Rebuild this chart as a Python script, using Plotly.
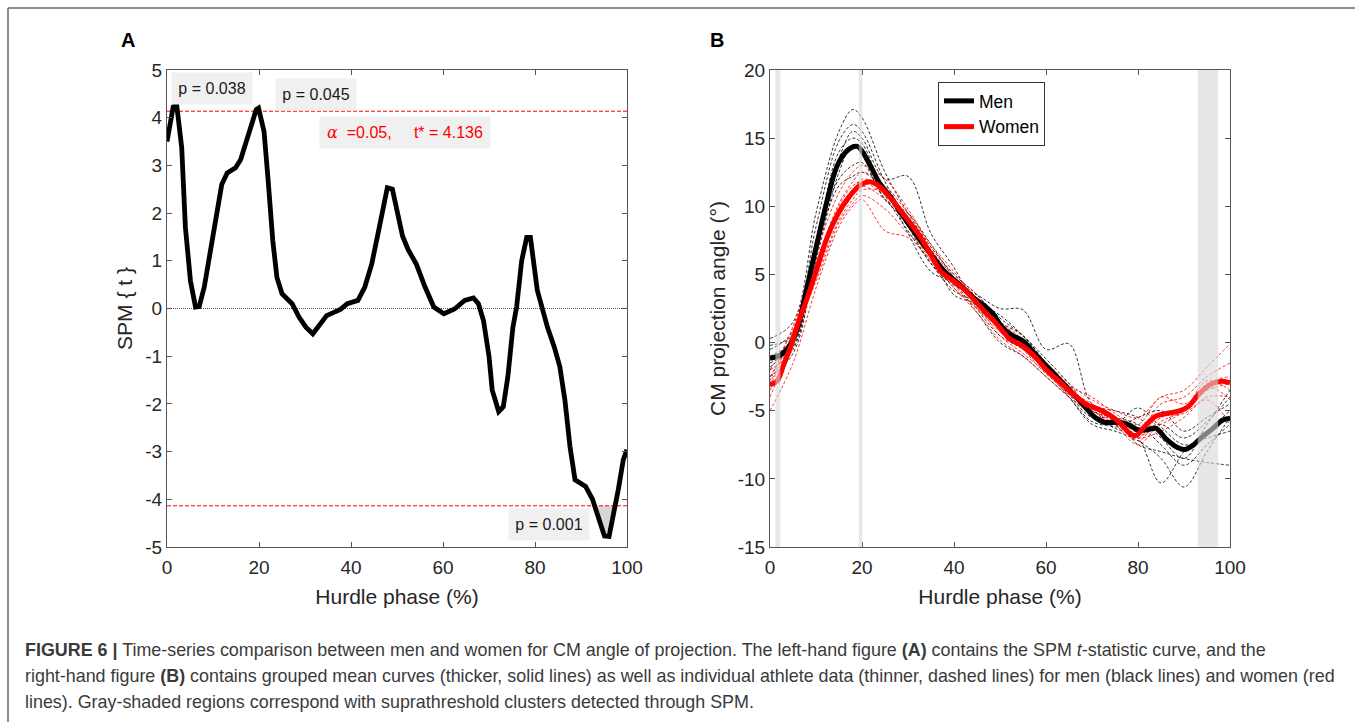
import plotly.graph_objects as go

# ---------------- Data ----------------
# Panel A: SPM{t} curve
spm_x = [0, 1.35, 2.1, 3.2, 4.0, 5.1, 6.2, 7.0, 8.1, 10, 11.9, 13.1, 14.9, 16, 17.5, 19.4, 19.9, 21.1, 22, 23,
         23.9, 25, 27.2, 28.7, 30.2, 31.7, 34.7, 37.7, 39.2, 41.5, 43, 44.5, 46, 47.9, 49, 50.1, 51.2, 52.4, 54.2, 56.1,
         58, 60.2, 62.5, 64.7, 66.6, 67.7, 68.8, 70, 70.7, 72.1, 73.1, 74.1, 75.2, 76, 77.1, 78.2, 79, 80.5, 81.6, 82.7,
         84.2, 85.4, 86.5, 87.6, 88.7, 91, 92.5, 94, 95.1, 96.1, 97, 98.1, 99.2, 100]
spm_t = [3.5, 4.23, 4.27, 3.37, 1.7, 0.58, 0.03, 0.04, 0.45, 1.56, 2.6, 2.84, 2.95, 3.12, 3.57, 4.17, 4.2, 3.71, 2.67, 1.42,
         0.65, 0.31, 0.1, -0.18, -0.39, -0.53, -0.15, -0.02, 0.1, 0.17, 0.45, 0.93, 1.63, 2.53, 2.5, 1.97, 1.52, 1.24, 0.93, 0.45,
         0.03, -0.11, -0.01, 0.17, 0.22, 0.1, -0.25, -1.0, -1.71, -2.16, -2.06, -1.43, -0.39, 0.03, 1.0, 1.49, 1.49, 0.38, -0.04, -0.39,
         -0.81, -1.22, -1.92, -2.89, -3.59, -3.73, -4.0, -4.42, -4.77, -4.78, -4.35, -3.8, -3.17, -2.96]
t_crit = 4.136
p_labels = ["p = 0.038", "p = 0.045", "p = 0.001"]
p_label_pos = [(9.7, 4.62), (32.3, 4.48), (83.0, -4.53)]

# Tick values / labels
x_ticks = [0, 20, 40, 60, 80, 100]
x_tick_labels = ["0", "20", "40", "60", "80", "100"]
a_y_ticks = [-5, -4, -3, -2, -1, 0, 1, 2, 3, 4, 5]
a_y_tick_labels = ["-5", "-4", "-3", "-2", "-1", "0", "1", "2", "3", "4", "5"]
b_y_ticks = [-15, -10, -5, 0, 5, 10, 15, 20]
b_y_tick_labels = ["-15", "-10", "-5", "0", "5", "10", "15", "20"]

# Panel B: mean curves
men_x = [0, 2.3, 4.6, 6.1, 7.7, 10, 12.4, 14.7, 17, 19, 20.1, 22.1, 24, 26.4, 28.7, 31.8, 34.9, 38, 41.1, 44.2,
         46.6, 48.5, 50.5, 52.8, 55.1, 57.5, 59.8, 62.9, 66, 68.4, 70.7, 72.6, 75.4, 77.7, 80, 82, 83.9, 86.2, 88.6, 90.1,
         91.7, 94, 96.3, 98.3, 100]
men_y = [-1.15, -0.9, -0.05, 1.17, 3.54, 6.95, 10.4, 13.05, 14.15, 14.4, 14.0, 12.8, 11.6, 10.6, 9.4, 7.9, 6.5, 5.2, 4.3, 3.3,
         2.7, 2.1, 1.1, 0.5, 0.1, -0.8, -1.6, -2.7, -3.8, -4.7, -5.5, -5.85, -5.85, -6.0, -6.4, -6.4, -6.3, -7.1, -7.7, -7.85,
         -7.6, -6.9, -6.3, -5.7, -5.55]
wom_x = [0, 1.5, 3, 4.6, 6.1, 7.7, 10, 12.4, 14.7, 17, 19.4, 21.7, 23.2, 25.6, 27.9, 30.2, 32.6, 34.9, 37.2, 39.6,
         41.9, 44.2, 46.6, 48.9, 51.2, 52, 55.1, 57.5, 59.8, 62.9, 66, 69.1, 71.5, 73.8, 76.1, 78.5, 79.6, 81.6, 83.9, 86.2,
         88.6, 90.9, 93.2, 95.6, 97.9, 100]
wom_y = [-3.1, -2.85, -1.6, -0.2, 1.4, 2.9, 5.2, 7.7, 9.4, 10.6, 11.5, 11.8, 11.6, 10.85, 9.9, 8.9, 7.8, 6.5, 5.2, 4.6,
         4.0, 3.2, 2.3, 1.5, 0.6, 0.3, -0.3, -1.0, -1.9, -2.85, -3.8, -4.6, -4.9, -5.3, -5.9, -6.75, -6.8, -6.1, -5.4, -5.2,
         -5.05, -4.7, -3.8, -3.1, -2.85, -2.95]

# Panel B: individual athletes (sampled at ind_x)
ind_x = [0, 5, 10, 15, 18, 20, 25, 30, 35, 40, 45, 50, 55, 60, 65, 70, 75, 80, 85, 90, 95, 100]
men_ind = [
    [0.3, 1.5, 9.5, 15.5, 17.1, 16.5, 12.5, 9.5, 7.0, 5.0, 3.5, 1.8, 0.5, -1.2, -3.0, -5.0, -5.5, -6.0, -7.5, -9.0, -7.5, -6.0],
    [-0.5, 0.8, 8.5, 14.8, 16.0, 15.5, 11.8, 9.0, 6.8, 4.5, 3.0, 1.5, 0.5, -1.5, -3.2, -5.2, -6.0, -7.0, -10.3, -8.0, -6.5, -5.0],
    [-1.5, -0.3, 7.0, 13.5, 15.5, 15.0, 12.0, 12.2, 8.0, 5.5, 2.5, 0.5, -0.5, -2.0, -4.0, -6.0, -6.5, -7.2, -8.5, -10.6, -8.0, -5.5],
    [-2.5, -0.8, 6.0, 12.5, 14.5, 14.2, 11.0, 8.5, 5.8, 4.2, 3.5, 2.5, 2.4, -0.5, -0.1, -4.5, -5.0, -5.5, -7.0, -8.5, -6.0, -3.5],
    [-1.0, 0.2, 7.5, 12.0, 13.0, 13.2, 10.5, 8.8, 6.5, 3.5, 2.8, 1.0, -0.2, -2.0, -3.5, -5.2, -6.2, -5.5, -5.0, -6.5, -5.5, -4.5],
    [-0.2, 0.5, 6.8, 11.5, 12.2, 12.5, 11.2, 8.0, 5.2, 4.3, 2.2, 0.0, -1.0, -2.5, -4.0, -5.8, -6.0, -4.8, -6.2, -7.5, -7.0, -6.5],
    [-2.0, -0.5, 6.5, 13.0, 14.5, 13.8, 10.5, 9.5, 7.2, 4.8, 3.2, 1.2, 0.2, -1.8, -3.8, -5.5, -5.5, -7.5, -8.0, -8.5, -8.8, -9.0],
    [-1.8, 0.0, 7.2, 14.0, 15.0, 14.6, 10.8, 8.2, 5.8, 3.8, 3.0, 2.0, 0.5, -1.5, -3.3, -4.8, -6.3, -6.5, -6.0, -7.0, -5.8, -4.0],
]
wom_ind = [
    [-2.0, 1.0, 6.5, 11.0, 12.5, 13.0, 12.0, 9.8, 7.0, 5.0, 3.5, 1.5, 0.0, -1.5, -3.0, -4.2, -5.0, -5.5, -4.0, -3.5, -1.8, -0.1],
    [-2.5, 0.5, 5.8, 10.2, 11.8, 12.5, 11.5, 9.5, 7.2, 5.2, 3.2, 1.2, -0.5, -2.0, -3.5, -4.5, -5.5, -6.5, -4.5, -4.0, -2.5, -1.5],
    [-3.5, 0.0, 5.0, 9.5, 11.0, 12.0, 11.2, 9.0, 6.5, 4.2, 2.5, 0.8, -0.2, -2.2, -3.8, -5.0, -6.0, -7.5, -5.8, -5.0, -3.0, -2.5],
    [-5.0, -1.5, 4.0, 8.5, 10.0, 10.5, 8.2, 7.7, 6.0, 4.0, 2.2, 0.2, -1.0, -2.5, -4.0, -5.2, -6.0, -7.0, -6.5, -5.5, -4.0, -4.0],
    [-3.0, 0.8, 5.5, 10.0, 11.5, 11.8, 10.8, 9.2, 6.8, 4.8, 3.0, 1.5, 0.2, -1.8, -3.2, -4.0, -5.2, -6.0, -4.0, -4.5, -3.5, -3.0],
    [-4.0, 0.2, 4.8, 9.0, 10.5, 11.2, 11.0, 8.8, 6.2, 4.5, 2.8, 0.5, -0.8, -2.2, -3.8, -4.8, -5.8, -7.2, -5.5, -5.2, -4.2, -6.0],
    [-2.8, 1.2, 5.8, 9.8, 11.2, 11.5, 10.5, 8.5, 6.0, 4.0, 2.5, 1.0, -0.5, -2.3, -3.5, -4.8, -5.5, -6.8, -6.0, -5.0, -2.8, -3.5],
    [-3.2, 0.4, 4.5, 8.8, 10.2, 10.8, 9.8, 8.0, 6.5, 4.5, 2.8, 1.0, -0.4, -2.0, -3.6, -5.0, -5.8, -7.0, -5.2, -4.8, -3.2, -4.2],
]

caption_lines = [
    "<b>FIGURE 6 |</b> Time-series comparison between men and women for CM angle of projection. The left-hand figure <b>(A)</b> contains the SPM <i>t</i>-statistic curve, and the",
    "right-hand figure <b>(B)</b> contains grouped mean curves (thicker, solid lines) as well as individual athlete data (thinner, dashed lines) for men (black lines) and women (red",
    "lines). Gray-shaded regions correspond with suprathreshold clusters detected through SPM.",
]

FONT = "Liberation Sans, Arial, Helvetica, sans-serif"
W, H = 1355, 722


def clusters(x, t, thr):
    """Return polygons (list of (x,y)) where |t| exceeds thr."""
    polys = []
    for sign in (1, -1):
        cur = None
        for i in range(len(x)):
            v = sign * t[i]
            if v > thr:
                if cur is None:
                    if i > 0:
                        v0 = sign * t[i - 1]
                        xc = x[i - 1] + (thr - v0) / (v - v0) * (x[i] - x[i - 1])
                    else:
                        xc = x[i]
                    cur = [(xc, sign * thr)]
                cur.append((x[i], t[i]))
            elif cur is not None:
                v0 = sign * t[i - 1]
                xc = x[i - 1] + (thr - v0) / (v - v0) * (x[i] - x[i - 1])
                cur.append((xc, sign * thr))
                polys.append(cur)
                cur = None
        if cur is not None:
            cur.append((x[-1], sign * thr))
            polys.append(cur)
    return polys


polys = clusters(spm_x, spm_t, t_crit)

fig = go.Figure()

# ---- Panel A ----
for poly in polys:
    fig.add_trace(go.Scatter(x=[p[0] for p in poly], y=[p[1] for p in poly], fill="toself",
                             fillcolor="#d6d6d6", line=dict(width=0), mode="lines",
                             showlegend=False, hoverinfo="skip", xaxis="x", yaxis="y"))
for thr_y in (t_crit, -t_crit):
    fig.add_trace(go.Scatter(x=[0, 100], y=[thr_y, thr_y], mode="lines",
                             line=dict(color="#ff0000", width=1, dash="4px,2px"), showlegend=False,
                             xaxis="x", yaxis="y"))
fig.add_trace(go.Scatter(x=[0, 100], y=[0, 0], mode="lines",
                         line=dict(color="#555555", width=1, dash="1px,1px"), showlegend=False, xaxis="x", yaxis="y"))
fig.add_trace(go.Scatter(x=spm_x, y=spm_t, mode="lines", line=dict(color="black", width=4.8),
                         showlegend=False, xaxis="x", yaxis="y"))

# ---- Panel B ----
for yy in men_ind:
    fig.add_trace(go.Scatter(x=ind_x, y=yy, mode="lines", line=dict(color="black", width=0.8, dash="3px,2px", shape="spline"),
                             showlegend=False, xaxis="x2", yaxis="y2"))
for yy in wom_ind:
    fig.add_trace(go.Scatter(x=ind_x, y=yy, mode="lines", line=dict(color="#ff0000", width=0.8, dash="3px,2px", shape="spline"),
                             showlegend=False, xaxis="x2", yaxis="y2"))
fig.add_trace(go.Scatter(x=men_x, y=men_y, mode="lines", name="Men",
                         line=dict(color="black", width=5, shape="spline"), xaxis="x2", yaxis="y2"))
fig.add_trace(go.Scatter(x=wom_x, y=wom_y, mode="lines", name="Women",
                         line=dict(color="#ff0000", width=5, shape="spline"), xaxis="x2", yaxis="y2"))

shapes = []
for poly in polys:
    xs = [p[0] for p in poly]
    shapes.append(dict(type="rect", xref="x2", yref="y2", x0=min(xs), x1=max(xs), y0=-15, y1=20,
                       fillcolor="rgba(215,215,215,0.6)", line=dict(width=0), layer="above"))
# outer frame
shapes.append(dict(type="line", xref="paper", yref="paper", x0=8 / W, x1=1, y0=1 - 8 / H, y1=1 - 8 / H,
                   line=dict(color="#666666", width=1.5)))
shapes.append(dict(type="line", xref="paper", yref="paper", x0=8 / W, x1=8 / W, y0=0, y1=1 - 8 / H,
                   line=dict(color="#666666", width=1.5)))

annotations = []
box_font = dict(family=FONT, size=16, color="#1a1a1a")
for txt, (px, py) in zip(p_labels, p_label_pos):
    annotations.append(dict(x=px, y=py, xref="x", yref="y", text=txt, showarrow=False, font=box_font,
                            bgcolor="#f0f0f0", width=78, height=29, align="center"))
annotations.append(dict(x=51.7, y=3.7, xref="x", yref="y",
                        text="<span style='font-family:DejaVu Serif'><i>α</i></span>\u00a0\u00a0=0.05,\u00a0\u00a0\u00a0\u00a0\u00a0t* = 4.136",
                        showarrow=False, font=dict(family=FONT, size=16, color="#ff0000"),
                        bgcolor="#f0f0f0", width=168, height=29, align="center"))
for letter, lx in (("A", 128), ("B", 717)):
    annotations.append(dict(x=lx / W, y=1 - 40 / H, xref="paper", yref="paper", text="<b>%s</b>" % letter,
                            showarrow=False, xanchor="center", yanchor="middle",
                            font=dict(family=FONT, size=20, color="black")))
for i, line in enumerate(caption_lines):
    annotations.append(dict(x=23 / W, y=1 - (650 + 26 * i) / H, xref="paper", yref="paper", text=line,
                            showarrow=False, xanchor="left", yanchor="middle",
                            font=dict(family=FONT, size=17.9, color="#3a3a3a")))

axis_common = dict(showline=True, linecolor="#555555", linewidth=1, mirror="ticks", ticks="inside",
                   ticklen=5, tickcolor="#555555", showgrid=False, zeroline=False, automargin=False,
                   tickfont=dict(family=FONT, size=19, color="#262626"))
title_font = dict(family=FONT, size=21, color="#262626")
ya = [1 - 547 / H, 1 - 70 / H]

fig.update_layout(
    width=W, height=H, margin=dict(l=0, r=0, t=0, b=0, pad=0), autosize=False,
    paper_bgcolor="white", plot_bgcolor="white",
    xaxis=dict(domain=[167 / W, 627 / W], range=[0, 100], tickvals=x_ticks, ticktext=x_tick_labels, anchor="y",
               ticklabelstandoff=3,
               title=dict(text="Hurdle phase (%)", font=title_font, standoff=12), **axis_common),
    yaxis=dict(domain=ya, range=[-5, 5], tickvals=a_y_ticks, ticktext=a_y_tick_labels, anchor="x",
               title=dict(text="SPM { t }", font=title_font, standoff=6), **axis_common),
    xaxis2=dict(domain=[770 / W, 1230 / W], range=[0, 100], tickvals=x_ticks, ticktext=x_tick_labels, anchor="y2",
                ticklabelstandoff=3,
                title=dict(text="Hurdle phase (%)", font=title_font, standoff=12), **axis_common),
    yaxis2=dict(domain=ya, range=[-15, 20], tickvals=b_y_ticks, ticktext=b_y_tick_labels, anchor="x2",
                title=dict(text="CM projection angle (°)", font=title_font, standoff=6), **axis_common),
    legend=dict(x=938 / W, y=1 - 82 / H, xanchor="left", yanchor="top", bgcolor="white",
                bordercolor="#333333", borderwidth=1, font=dict(family=FONT, size=17.5, color="black"),
                tracegroupgap=0),
    shapes=shapes, annotations=annotations, showlegend=True,
)

fig.write_html("out.html", config={"displayModeBar": False},
               post_script="document.body.style.margin='0';document.body.style.overflow='hidden';")
